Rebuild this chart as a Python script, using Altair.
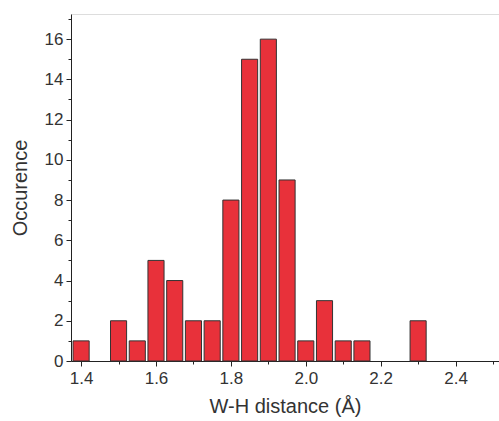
import altair as alt
import pandas as pd

distance = [1.40, 1.50, 1.55, 1.60, 1.65, 1.70, 1.75, 1.80, 1.85, 1.90, 1.95, 2.00, 2.05, 2.10, 2.15, 2.30]
occurence = [1, 2, 1, 5, 4, 2, 2, 8, 15, 16, 9, 1, 3, 1, 1, 2]

df = pd.DataFrame({"d": distance, "n": occurence})

x_ticks = [round(1.4 + 0.1 * i, 1) for i in range(12)]
y_ticks = list(range(0, 18))

font = "Liberation Sans"

bars = alt.Chart(df).transform_calculate(
    lo="datum.d - 0.0215", hi="datum.d + 0.0215"
).mark_bar(color="#E8313A", stroke="#333333", strokeWidth=1).encode(
    x=alt.X("lo:Q",
            scale=alt.Scale(domain=[1.373, 2.516], nice=False, zero=False),
            axis=alt.Axis(
                title="W-H distance (Å)",
                values=x_ticks,
                format=".1f",
                labelExpr="round(datum.value*10) % 2 == 0 ? format(datum.value, '.1f') : ''",
                tickSize={"condition": {"test": "round(datum.value*10) % 2 == 0", "value": 5}, "value": 3},
                grid=False,
                labelFontSize=17, titleFontSize=20,
                labelPadding=4, titlePadding=10,
                labelFont=font, titleFont=font,
                labelColor="#333333", titleColor="#333333",
                titleFontWeight="normal",
                domainColor="#222222", tickColor="#222222",
                labelFlush=False,
            )),
    x2="hi:Q",
    y=alt.Y("n:Q",
            scale=alt.Scale(domain=[0, 17.25], nice=False),
            axis=alt.Axis(
                title="Occurence",
                values=y_ticks,
                labelExpr="datum.value % 2 == 0 ? datum.value : ''",
                tickSize={"condition": {"test": "datum.value % 2 == 0", "value": 5}, "value": 3},
                grid=False,
                labelFontSize=17, titleFontSize=20,
                labelPadding=3, titlePadding=14,
                labelFont=font, titleFont=font,
                labelColor="#333333", titleColor="#333333",
                titleFontWeight="normal",
                domainColor="#222222", tickColor="#222222",
            )),
    y2=alt.datum(0),
)

chart = bars.properties(
    width=428, height=347,
    autosize=alt.AutoSizeParams(type="none"),
    padding={"left": 71, "top": 14, "right": 0, "bottom": 60},
).configure_view(stroke=None).configure(background="white")

chart.save("out.html", embed_options={"renderer": "svg", "actions": False})
